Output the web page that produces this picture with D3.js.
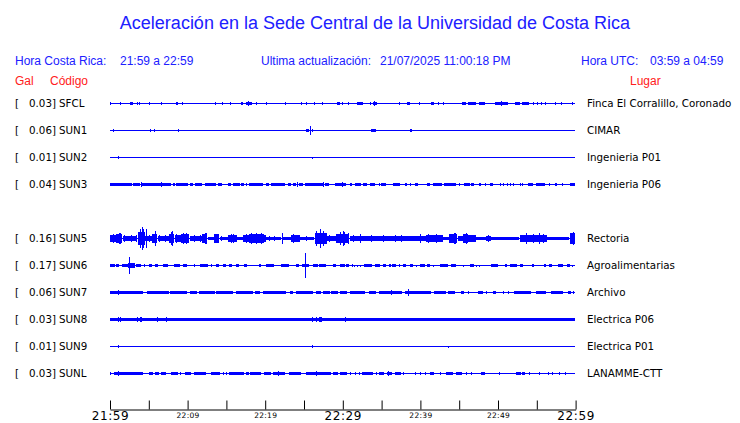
<!DOCTYPE html>
<html>
<head>
<meta charset="utf-8">
<script src="https://cdn.jsdelivr.net/npm/d3@7"></script>
<style>
html,body{margin:0;padding:0;background:#fff;}
svg{display:block;}
</style>
</head>
<body>
<svg id="chart" width="740" height="423"></svg>
<script>
// ---------------- DATA ----------------
const title = "Aceleración en la Sede Central de la Universidad de Costa Rica";
const headerLocal = ["Hora Costa Rica:", "21:59 a 22:59"];
const headerUpdate = ["Ultima actualización:", "21/07/2025 11:00:18 PM"];
const headerUTC = ["Hora UTC:", "03:59 a 04:59"];
const colHeaders = ["Gal", "Código", "Lugar"];

const codes  = ["SFCL","SUN1","SUN2","SUN3","SUN5","SUN6","SUN7","SUN8","SUN9","SUNL"];
const galMax = [0.03, 0.06, 0.01, 0.04, 0.16, 0.17, 0.06, 0.03, 0.01, 0.03];
const places = ["Finca El Corralillo, Coronado","CIMAR","Ingenieria P01","Ingenieria P06","Rectoria","Agroalimentarias","Archivo","Electrica P06","Electrica P01","LANAMME-CTT"];
const rowIndex = [0,1,2,3,5,6,7,8,9,10];

// time axis (minutes from 21:59)
const tickMinutes = [0,5,10,15,20,25,30,35,40,45,50,55,60];
const tickLabels  = {0:"21:59",10:"22:09",20:"22:19",30:"22:29",40:"22:39",50:"22:49",60:"22:59"};
const majorTicks  = [0,30,60];

// envelope events per station: [startMinute, endMinute, amplitudeGal]
const evSFCL = [[0,0,0.018],[1.38,1.38,0.022],[2.58,2.93,0.025],[3.52,3.52,0.018],[3.78,3.78,0.022],[5.06,5.06,0.018],[6.61,6.61,0.018],[8.51,8.76,0.024],[9.28,9.28,0.03],[13.57,13.57,0.022],[14.47,14.47,0.018],[15.5,15.5,0.022],[16.92,17.18,0.024],[17.53,18.3,0.025],[17.9,17.9,0.032],[18.9,18.9,0.025],[20.14,20.14,0.018],[22.59,22.59,0.018],[24.74,24.74,0.022],[25.3,25.3,0.022],[26.33,26.33,0.018],[27.41,27.41,0.022],[29.29,29.64,0.024],[29.99,29.99,0.025],[30.71,30.71,0.022],[31.87,32.64,0.024],[33.6,33.6,0.022],[33.93,34.45,0.025],[34.1,34.1,0.032],[37.37,37.37,0.018],[38.36,38.75,0.022],[39.86,39.86,0.018],[41.37,41.75,0.024],[42.36,42.36,0.022],[43.04,43.04,0.022],[45.45,45.97,0.022],[46.22,47.26,0.024],[47.68,48.45,0.025],[49.65,51.38,0.026],[50.5,50.5,0.037],[52.23,52.84,0.022],[53.18,54.03,0.025],[54.55,54.55,0.03],[55.06,55.06,0.03],[55.57,55.57,0.022],[56.08,56.08,0.018],[57.38,57.38,0.022],[58.16,58.16,0.018],[59.57,59.57,0.022]];
const evSUN1 = [[0.43,0.43,0.022],[5.28,5.28,0.02],[5.71,5.71,0.022],[8.8,8.8,0.022],[25.35,25.68,0.025],[25.81,25.81,0.066],[26.07,26.07,0.02],[33.76,34.37,0.022],[38.75,39.01,0.02]];
const evSUN2 = [[1.07,1.07,0.022],[26.07,26.07,0.012]];
const evSUN3 = [[0,0.64,0.02],[0.77,3.0,0.02],[3.09,3.96,0.02],[4.12,6.7,0.02],[6.79,7.95,0.02],[8.16,8.38,0.02],[8.6,10.09,0.02],[10.31,10.73,0.02],[11.08,12.02,0.02],[12.37,13.75,0.02],[13.96,14.43,0.02],[15.24,15.68,0.02],[15.89,16.75,0.02],[16.97,17.4,0.02],[17.62,17.75,0.02],[17.95,19.76,0.02],[20.19,20.62,0.02],[20.84,22.68,0.02],[22.98,23.41,0.02],[23.62,24.06,0.02],[24.39,24.91,0.02],[25.13,27.41,0.02],[27.71,28.26,0.02],[29.12,30.5,0.02],[31.02,31.28,0.02],[31.7,32.44,0.02],[32.73,33.29,0.02],[33.51,34.15,0.02],[35.01,35.66,0.02],[36.51,37.37,0.02],[39.43,39.86,0.02],[40.89,41.24,0.02],[41.75,42.95,0.02],[43.17,44.75,0.02],[45.62,46.39,0.02],[46.61,47.04,0.02],[47.59,47.9,0.02],[48.97,49.32,0.02],[53.9,54.55,0.02],[54.9,56.06,0.02],[59.28,59.92,0.02],
  [4.03,4.03,0.045],[6.7,6.7,0.035],[24.14,24.14,0.04],[27.49,27.49,0.04],[29.99,29.99,0.04],[34.7,34.7,0.018],[38.02,38.23,0.018],[38.66,38.66,0.018],[45.1,45.1,0.018],[48.45,48.45,0.018],[50.26,50.26,0.018],[50.68,50.68,0.018],[51.2,51.2,0.018],[51.64,51.64,0.018],[52.06,52.06,0.018],[52.84,52.84,0.018],[53.18,53.35,0.018],[56.7,56.7,0.018],[57.35,57.56,0.018],[58.33,58.33,0.018]];
const evSUN5 = [[0,0.86,0.05],[0.86,1.68,0.066],[1.68,3.44,0.042],[3.44,3.61,0.06],[3.61,4.51,0.105],[4.21,4.21,0.18],[3.87,3.87,0.15],[4.51,5.54,0.042],[4.73,4.73,0.15],[5.54,6.19,0.072],[5.8,5.8,0.12],[6.19,7.73,0.035],[7.73,8.38,0.075],[7.99,7.99,0.12],[8.38,9.24,0.05],[9.24,10.31,0.062],[9.66,9.66,0.075],[10.31,11.98,0.035],[11.98,12.63,0.062],[12.37,12.37,0.09],[12.63,13.53,0.026],[13.53,14.18,0.062],[13.75,13.75,0.075],[14.18,15.21,0.026],[15.21,16.33,0.05],[15.89,15.89,0.07],[16.33,17.18,0.026],[17.18,18.04,0.05],[18.04,19.97,0.066],[18.26,18.26,0.08],[18.9,18.9,0.085],[19.55,19.55,0.08],[19.97,20.19,0.05],[20.19,22.13,0.03],[22.23,22.23,0.077],[22.33,23.41,0.03],[23.41,24.48,0.05],[23.62,23.62,0.07],[24.48,26.42,0.03],[26.42,27.93,0.09],[27.15,27.15,0.14],[27.93,29.21,0.042],[29.21,30.93,0.072],[29.64,29.64,0.1],[30.07,30.07,0.12],[30.93,34.37,0.046],[34.37,40.81,0.035],[39.95,39.95,0.07],[40.81,42.95,0.05],[42.95,43.81,0.03],[43.81,44.88,0.062],[44.33,44.33,0.087],[44.88,45.53,0.042],[45.53,46.17,0.072],[45.88,45.88,0.087],[46.17,47.26,0.05],[47.26,48.54,0.026],[48.54,49.19,0.046],[49.19,52.84,0.02],[52.84,56.28,0.05],[53.69,53.69,0.077],[55.41,55.41,0.077],[56.28,59.28,0.026],[59.28,59.92,0.077],[59.79,59.79,0.1]];
// extra spikes seen inside the SUN5 envelope: [minute, amplitudeGal]
const spkSUN5 = [[0.43,0.07],[1.2,0.085],[1.38,0.08],[1.93,0.06],[2.8,0.06],[4.38,0.14],[5.15,0.06],[6.44,0.05],[7.09,0.05],[7.95,0.1],[8.6,0.07],[9.45,0.08],[9.88,0.08],[10.95,0.05],[11.6,0.05],[12.46,0.08],[14.39,0.04],[15.68,0.065],[17.62,0.065],[20.5,0.045],[21.2,0.045],[24.48,0.05],[25.3,0.045],[26.64,0.11],[27.49,0.12],[28.35,0.055],[30.28,0.1],[30.71,0.09],[31.35,0.06],[32.22,0.065],[33.72,0.06],[35.22,0.05],[36.73,0.05],[37.59,0.05],[41.02,0.065],[42.1,0.065],[42.53,0.06],[44.46,0.08],[46.82,0.06],[48.75,0.06],[50.5,0.03],[51.5,0.03],[54.55,0.07],[55.84,0.065],[59.5,0.09]];
const evSUN6 = [[0,0.64,0.025],[0.86,1.29,0.02],[1.64,2.36,0.02],[2.36,3.22,0.04],[2.49,2.49,0.13],[3.44,4.09,0.02],[4.51,4.51,0.018],[5.15,5.58,0.02],[5.8,6.22,0.02],[6.87,7.51,0.02],[8.25,9.02,0.03],[9.45,9.96,0.02],[10.95,10.95,0.018],[11.6,12.67,0.02],[13.11,13.11,0.03],[13.75,14.18,0.02],[14.6,15.04,0.02],[15.46,15.89,0.02],[16.33,16.75,0.02],[17.27,17.62,0.02],[19.24,19.55,0.02],[20.19,21.26,0.02],[22.13,23.2,0.02],[24.06,24.48,0.02],[24.83,25.68,0.03],[25.17,25.17,0.185],[26.2,26.84,0.02],[27.06,27.93,0.02],[28.78,29.21,0.02],[29.64,30.28,0.02],[30.5,30.93,0.02],[31.28,31.28,0.03],[31.57,31.57,0.015],[31.9,31.9,0.015],[32.22,32.22,0.015],[32.86,33.93,0.02],[34.15,34.79,0.02],[35.22,35.57,0.02],[36.08,36.31,0.02],[36.43,36.95,0.02],[37.28,37.28,0.03],[37.8,38.23,0.02],[38.66,39.01,0.02],[39.52,39.52,0.015],[39.95,40.59,0.02],[40.89,41.33,0.02],[41.66,41.66,0.015],[42.53,43.6,0.02],[44.03,44.68,0.02],[45.53,45.53,0.012],[46.48,47.04,0.02],[47.26,47.26,0.015],[47.68,47.68,0.015],[49.19,50.04,0.02],[49.3,49.3,0.03],[51.03,51.33,0.02],[51.55,52.41,0.02],[52.84,53.18,0.02],[54.47,54.77,0.02],[55.93,56.19,0.03],[56.7,57.13,0.02],[57.77,58.41,0.02],[58.98,59.41,0.02],[59.57,59.57,0.015]];
const evSUN7 = [[0,4.29,0.02],[1.07,1.07,0.04],[4.85,7.73,0.02],[5.58,5.58,0.03],[7.82,9.96,0.02],[8.16,8.16,0.03],[10.31,11.17,0.02],[11.51,13.53,0.02],[11.82,11.82,0.03],[12.67,12.67,0.03],[13.75,15.89,0.02],[16.33,18.47,0.02],[18.04,18.04,0.03],[18.69,19.33,0.02],[19.76,22.77,0.02],[22.13,22.13,0.03],[23.2,23.62,0.02],[24.06,26.2,0.02],[26.64,27.28,0.02],[27.49,28.35,0.02],[28.57,29.42,0.02],[28.78,28.78,0.03],[29.64,30.5,0.02],[30.93,32.86,0.02],[33.41,34.37,0.025],[34.79,37.8,0.02],[36.31,36.31,0.045],[38.02,39.52,0.022],[38.44,38.44,0.06],[39.52,41.46,0.02],[41.88,43.39,0.02],[43.6,44.46,0.02],[45.32,45.75,0.02],[46.17,46.17,0.018],[47.46,48.1,0.02],[48.54,48.54,0.018],[49.39,49.83,0.02],[50.68,50.68,0.018],[51.33,51.33,0.018],[52.19,54.34,0.02],[53.3,53.3,0.03],[54.99,56.28,0.02],[56.92,58.41,0.02],[59.06,59.5,0.02],[59.7,59.7,0.018]];
const evSUN8 = [[0,59.92,0.021],[1.07,1.07,0.04],[1.29,1.29,0.04],[3.52,3.52,0.035],[3.96,4.21,0.04],[6.1,6.1,0.035],[7.31,7.31,0.035],[15.37,15.37,0.03],[21.82,21.82,0.03],[26.07,26.07,0.035],[26.55,26.55,0.035],[27.06,27.41,0.04],[30.32,30.32,0.035]];
const evSUN9 = [[1.07,1.07,0.018],[26.07,26.07,0.018],[43.6,43.6,0.015]];
const evSUNL = [[0,0,0.025],[0.52,4.21,0.02],[1.07,1.07,0.04],[5.06,5.58,0.02],[5.8,6.35,0.02],[6.66,7.31,0.02],[7.95,8.8,0.02],[9.11,9.11,0.018],[9.79,10.53,0.02],[10.95,12.46,0.02],[13.11,14.27,0.02],[14.6,14.6,0.018],[15.04,15.04,0.018],[15.37,17.27,0.02],[17.62,18.04,0.02],[18.13,19.55,0.02],[19.85,20.1,0.02],[20.19,20.84,0.02],[21.04,22.55,0.02],[21.69,21.69,0.035],[23.11,24.7,0.02],[25.26,28.48,0.02],[26.64,26.64,0.04],[28.78,29.42,0.02],[29.64,30.58,0.02],[31.02,31.02,0.018],[31.7,31.7,0.018],[32.13,32.31,0.02],[32.56,33.93,0.02],[34.28,34.28,0.018],[34.79,35.44,0.02],[35.73,36.31,0.02],[35.91,35.91,0.035],[36.73,37.46,0.02],[37.8,37.8,0.018],[39.43,39.43,0.018],[39.95,39.95,0.018],[40.72,40.89,0.02],[41.33,41.88,0.02],[42.53,42.53,0.018],[43.3,44.24,0.02],[44.59,45.32,0.02],[45.88,45.88,0.018],[46.61,46.61,0.018],[47.9,48.41,0.02],[50.17,50.17,0.018],[52.41,53.05,0.02],[53.18,53.61,0.02],[54.03,54.03,0.018],[55.41,55.41,0.018],[56.48,56.48,0.018],[57.0,57.0,0.018],[57.9,57.9,0.018],[58.67,58.67,0.018]];
const stationEvents = [evSFCL, evSUN1, evSUN2, evSUN3, evSUN5.concat(spkSUN5.map(d => [d[0], d[0], d[1]])), evSUN6, evSUN7, evSUN8, evSUN9, evSUNL];

// ---------------- DRAW ----------------
const svg = d3.select("#chart");
const blue = "#0000ff", textBlue = "#2020ff", red = "#ff2020";
const sans = "'Liberation Sans', Arial, sans-serif";
const dejavu = "'DejaVu Sans', sans-serif";

const x = d3.scaleLinear().domain([0, 60]).range([110, 575.6]);
const yRow = d3.scalePoint().domain(d3.range(11)).range([103, 373]);
const amp = d3.scaleLinear().domain([0, 0.2]).range([0, 13]);

// title
svg.append("text").attr("x", 375).attr("y", 29).attr("text-anchor", "middle")
  .attr("font-family", sans).attr("font-size", 18).attr("fill", textBlue).text(title);

// header row
const hdr = [[15, headerLocal[0]], [120, headerLocal[1]], [261, headerUpdate[0]], [380, headerUpdate[1]], [581, headerUTC[0]], [650, headerUTC[1]]];
svg.append("g").selectAll("text").data(hdr).join("text")
  .attr("x", d => d[0]).attr("y", 65).attr("font-family", sans).attr("font-size", 12)
  .attr("fill", textBlue).text(d => d[1]);

// column headers
const colPos = [15, 50, 630];
svg.append("g").selectAll("text").data(colHeaders).join("text")
  .attr("x", (d, i) => colPos[i]).attr("y", 85).attr("font-family", sans).attr("font-size", 12)
  .attr("fill", red).text(d => d);

// station rows
const rows = svg.append("g").selectAll("g").data(codes).join("g")
  .attr("class", "row");

rows.each(function(code, i) {
  const g = d3.select(this);
  const base = yRow(rowIndex[i]);
  g.append("text").attr("x", 15).attr("y", base + 4).attr("font-family", dejavu).attr("font-size", 10.3)
    .attr("fill", "#000").text("[");
  g.append("text").attr("x", 56).attr("y", base + 4).attr("text-anchor", "end").attr("font-family", dejavu)
    .attr("font-size", 10.3).attr("fill", "#000").text(galMax[i].toFixed(2) + "]");
  g.append("text").attr("x", 59).attr("y", base + 4).attr("font-family", dejavu).attr("font-size", 10.3)
    .attr("fill", "#000").text(code);
  g.append("text").attr("x", 587).attr("y", base + 4).attr("font-family", dejavu).attr("font-size", 10.3)
    .attr("fill", "#000").text(places[i]);
  const tr = g.append("g").attr("shape-rendering", "crispEdges").attr("fill", blue);
  tr.append("rect").attr("x", x(0)).attr("y", base).attr("width", x(60) - x(0) - 0.6).attr("height", 1);
  tr.selectAll("rect.ev").data(stationEvents[i]).join("rect").attr("class", "ev")
    .attr("x", d => Math.floor(x(d[0])))
    .attr("width", d => Math.max(1, Math.round(x(d[1]) - x(d[0]))))
    .attr("y", d => base + 0.5 - Math.max(1, amp(d[2])))
    .attr("height", d => 2 * Math.max(1, amp(d[2])));
});

// time axis
const axis = d3.axisBottom(x).tickValues(tickMinutes).tickSizeInner(-9).tickSizeOuter(0).tickPadding(3)
  .tickFormat(d => tickLabels[d] || "");
const ax = svg.append("g").attr("transform", "translate(0,409.5)").call(axis);
ax.select(".domain").attr("stroke", "#000");
ax.selectAll(".tick line").attr("stroke", "#000");
ax.selectAll(".tick text")
  .attr("font-family", dejavu)
  .attr("fill", "#000")
  .attr("dy", d => majorTicks.includes(d) ? "0.66em" : "0.71em")
  .attr("font-size", d => majorTicks.includes(d) ? 12 : 7.5)
  .attr("letter-spacing", d => majorTicks.includes(d) ? 0.6 : 0.3);
</script>
</body>
</html>
